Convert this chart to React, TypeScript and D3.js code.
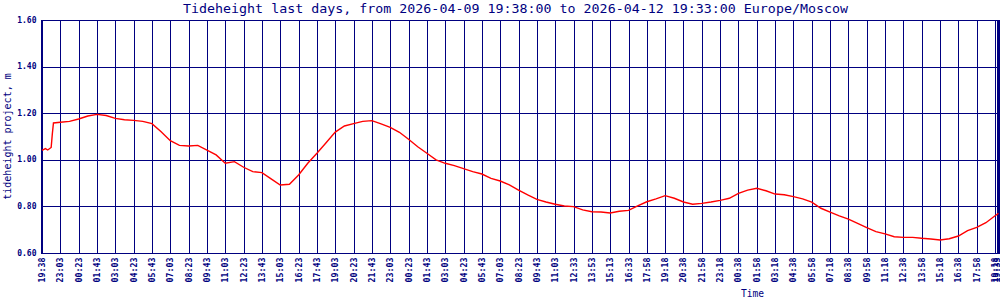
import React from "react";
import * as d3 from "d3";

const titleText =
  "Tideheight last days, from 2026-04-09 19:38:00 to 2026-04-12 19:33:00 Europe/Moscow";

const tickLabels = [
  "19:38", "23:03", "00:23", "01:43", "03:03", "04:23", "05:43", "07:03", "08:23", "09:43",
  "11:03", "12:23", "13:43", "15:03", "16:23", "17:43", "19:03", "20:23", "21:43", "23:03",
  "00:23", "01:43", "03:03", "04:23", "05:43", "07:03", "08:23", "09:43", "11:03", "12:33",
  "13:53", "15:13", "16:33", "17:58", "19:18", "20:38", "21:58", "23:18", "00:38", "01:58",
  "03:18", "04:38", "05:58", "07:18", "08:38", "09:58", "11:18", "12:38", "13:58", "15:18",
  "16:38", "17:58", "19:18",
];
const lastLabel = "19:33";
const lastIndex = 835;
const samplesPerTick = 16;

const yTicks = [0.6, 0.8, 1.0, 1.2, 1.4, 1.6];

const sampleIndex = [
  0, 3, 5, 8, 9, 10, 16, 24, 32, 40, 48, 56, 64, 72, 80, 88, 96, 104, 112, 120,
  128, 136, 144, 152, 160, 168, 176, 184, 192, 200, 208, 216, 224, 232, 240, 248, 256, 264, 272, 280,
  288, 296, 304, 312, 320, 328, 336, 344, 352, 360, 368, 376, 384, 392, 400, 408, 416, 424, 432, 440,
  448, 456, 464, 472, 480, 488, 496, 504, 512, 520, 528, 536, 544, 552, 560, 568, 576, 584, 592, 600,
  608, 616, 624, 632, 640, 648, 656, 664, 672, 680, 688, 696, 704, 712, 720, 728, 736, 744, 752, 760,
  768, 776, 784, 792, 800, 808, 816, 824, 832, 835,
];
const heightM = [
  1.04, 1.048, 1.042, 1.053, 1.11, 1.158, 1.161, 1.165, 1.175, 1.188, 1.195, 1.19, 1.178, 1.172, 1.169, 1.165, 1.155, 1.12, 1.082, 1.062,
  1.059, 1.062, 1.042, 1.021, 0.985, 0.992, 0.968, 0.949, 0.945, 0.918, 0.892, 0.895, 0.935, 0.985, 1.028, 1.073, 1.119, 1.145, 1.155, 1.165,
  1.168, 1.154, 1.139, 1.118, 1.088, 1.056, 1.028, 1.0, 0.985, 0.975, 0.962, 0.949, 0.939, 0.92, 0.909, 0.892, 0.87, 0.849, 0.83, 0.819,
  0.809, 0.802, 0.799, 0.785, 0.777, 0.776, 0.772, 0.779, 0.783, 0.802, 0.82, 0.832, 0.846, 0.835, 0.819, 0.809, 0.813, 0.819, 0.826, 0.835,
  0.856, 0.87, 0.878, 0.867, 0.853, 0.85, 0.842, 0.832, 0.818, 0.792, 0.775, 0.759, 0.745, 0.727, 0.709, 0.692, 0.682, 0.67, 0.667, 0.667,
  0.663, 0.66, 0.656, 0.661, 0.673, 0.696, 0.71, 0.73, 0.76, 0.77,
];

const W = 1000;
const H = 300;
const left = 42;
const right = 998.5;
const top = 20;
const bottom = 253;
const navy = "#000080";
const mono = "'DejaVu Sans Mono', monospace";

export default function App() {
  const x = d3.scaleLinear().domain([0, lastIndex]).range([left, right]);
  const y = d3.scaleLinear().domain([0.6, 1.6]).range([bottom, top]);

  const ticks = tickLabels.map((label, i) => ({ idx: i * samplesPerTick, label }));
  ticks.push({ idx: lastIndex, label: lastLabel });

  const pts: [number, number][] = sampleIndex.map((s, i) => [s, heightM[i]]);
  const line = d3
    .line<[number, number]>()
    .x((d) => x(d[0]))
    .y((d) => y(d[1]));

  const crisp = (v: number) => Math.round(v) + 0.5;

  return (
    <svg
      width={W}
      height={H}
      style={{ position: "absolute", left: 0, top: 0, background: "#fff" }}
    >
      <rect x={0} y={0} width={W} height={H} fill="#fff" />
      <text
        x={515.5}
        y={12.5}
        textAnchor="middle"
        fontFamily={mono}
        fontSize={13}
        fill={navy}
        textLength={665}
        lengthAdjust="spacingAndGlyphs"
      >
        {titleText}
      </text>

      {/* horizontal grid */}
      {yTicks.map((t) => (
        <line
          key={"h" + t}
          x1={left}
          x2={999}
          y1={crisp(y(t))}
          y2={crisp(y(t))}
          stroke={navy}
          strokeWidth={1}
        />
      ))}
      {/* vertical grid */}
      {ticks.map((t, i) => (
        <line
          key={"v" + i}
          x1={crisp(x(t.idx))}
          x2={crisp(x(t.idx))}
          y1={top}
          y2={bottom + 1}
          stroke={navy}
          strokeWidth={1}
        />
      ))}
      {/* axes frame */}
      <line x1={42} x2={42} y1={top} y2={bottom + 1} stroke={navy} strokeWidth={2} />
      <line x1={998} x2={998} y1={top} y2={bottom + 1} stroke={navy} strokeWidth={2} />

      <path d={line(pts) || ""} fill="none" stroke="#ff0000" strokeWidth={1.4} />

      {/* y labels */}
      {yTicks.map((t) => (
        <text
          key={"yl" + t}
          x={36.5}
          y={y(t)}
          textAnchor="end"
          dominantBaseline="central"
          fontFamily={mono}
          fontSize={8}
          fontWeight="bold"
          fill={navy}
        >
          {t.toFixed(2)}
        </text>
      ))}
      {/* x labels */}
      {ticks.map((t, i) => (
        <text
          key={"xl" + i}
          transform={`translate(${Math.min(x(t.idx), 996.5)},257.5) rotate(-90)`}
          textAnchor="end"
          dominantBaseline="central"
          fontFamily={mono}
          fontSize={8.3}
          fontWeight="bold"
          fill={navy}
        >
          {t.label}
        </text>
      ))}

      <text
        transform={`translate(7.5,${(top + bottom) / 2}) rotate(-90)`}
        textAnchor="middle"
        dominantBaseline="central"
        fontFamily={mono}
        fontSize={10}
        fill={navy}
      >
        tideheight project, m
      </text>
      <text
        x={752.5}
        y={297}
        textAnchor="middle"
        fontFamily={mono}
        fontSize={9.6}
        fill={navy}
      >
        Time
      </text>
    </svg>
  );
}
